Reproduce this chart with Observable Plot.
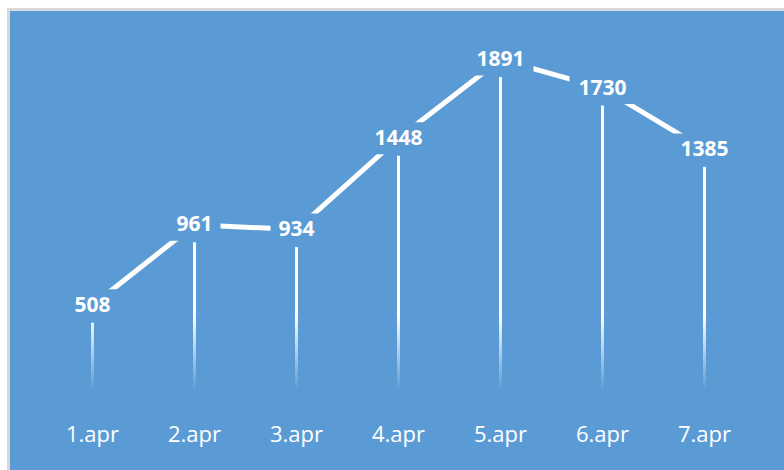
<!DOCTYPE html>
<html>
<head>
<meta charset="utf-8">
<script src="https://cdn.jsdelivr.net/npm/d3@7"></script>
<script src="https://cdn.jsdelivr.net/npm/@observablehq/plot@0.6"></script>
<style>
  html, body { margin: 0; padding: 0; background: #ffffff; }
  #wrap { position: relative; width: 784px; height: 470px; overflow: hidden; }
  #bg { position: absolute; left: 7px; top: 8px; right: 0; bottom: 0;
        background: #5b9bd5; border-left: 3px solid #d9d9d9; border-top: 3px solid #d9d9d9; }
  #chart { position: absolute; left: 0; top: 0; }
</style>
</head>
<body>
<div id="wrap"><div id="bg"></div><div id="chart"></div></div>
<script>
const days = ["1.apr", "2.apr", "3.apr", "4.apr", "5.apr", "6.apr", "7.apr"];
const values = [508, 961, 934, 1448, 1891, 1730, 1385];

const data = days.map((d, i) => ({day: d, value: values[i]}));

const BLUE = "#5b9bd5";
function boxSymbol(w, h) {
  return { draw(ctx) { ctx.rect(-w / 2, -h / 2, w, h); } };
}

const chart = Plot.plot({
  width: 784,
  height: 470,
  marginTop: 59,
  marginBottom: 75,
  marginLeft: 38,
  marginRight: 27,
  style: { background: "transparent", overflow: "visible" },
  x: { type: "point", domain: days, axis: null },
  y: { domain: [0, 1891], axis: null },
  marks: [
    Plot.line(data, { x: "day", y: "value", stroke: "white", strokeWidth: 5 }),
    Plot.ruleX(data, { x: "day", y1: "value", y2: 0, stroke: "url(#dropfade)", strokeWidth: 3, insetTop: 18, insetBottom: 5 }),
    Plot.dot(data, { filter: d => d.value < 1000, x: "day", y: "value", r: 1, symbol: boxSymbol(52, 32), fill: BLUE }),
    Plot.dot(data, { filter: d => d.value >= 1000, x: "day", y: "value", r: 1, symbol: boxSymbol(66, 32), fill: BLUE }),
    Plot.text(data, { x: "day", y: "value", text: d => String(d.value), fill: "white", fontSize: 21, fontWeight: "bold", fontFamily: "Open Sans", lineAnchor: "middle" }),
    Plot.text(days, { x: d => d, frameAnchor: "bottom", dy: 39, text: d => d, fill: "white", fontSize: 22, fontFamily: "Open Sans", lineAnchor: "middle" })
  ]
});

const ns = "http://www.w3.org/2000/svg";
const defs = document.createElementNS(ns, "defs");
const grad = document.createElementNS(ns, "linearGradient");
grad.setAttribute("id", "dropfade");
grad.setAttribute("gradientUnits", "userSpaceOnUse");
grad.setAttribute("x1", "0"); grad.setAttribute("x2", "0");
grad.setAttribute("y1", "315"); grad.setAttribute("y2", "390");
[[0, 1], [1, 0]].forEach(([o, a]) => {
  const s = document.createElementNS(ns, "stop");
  s.setAttribute("offset", o);
  s.setAttribute("stop-color", "white");
  s.setAttribute("stop-opacity", a);
  grad.appendChild(s);
});
defs.appendChild(grad);
chart.insertBefore(defs, chart.firstChild);

document.getElementById("chart").appendChild(chart);
</script>
</body>
</html>
